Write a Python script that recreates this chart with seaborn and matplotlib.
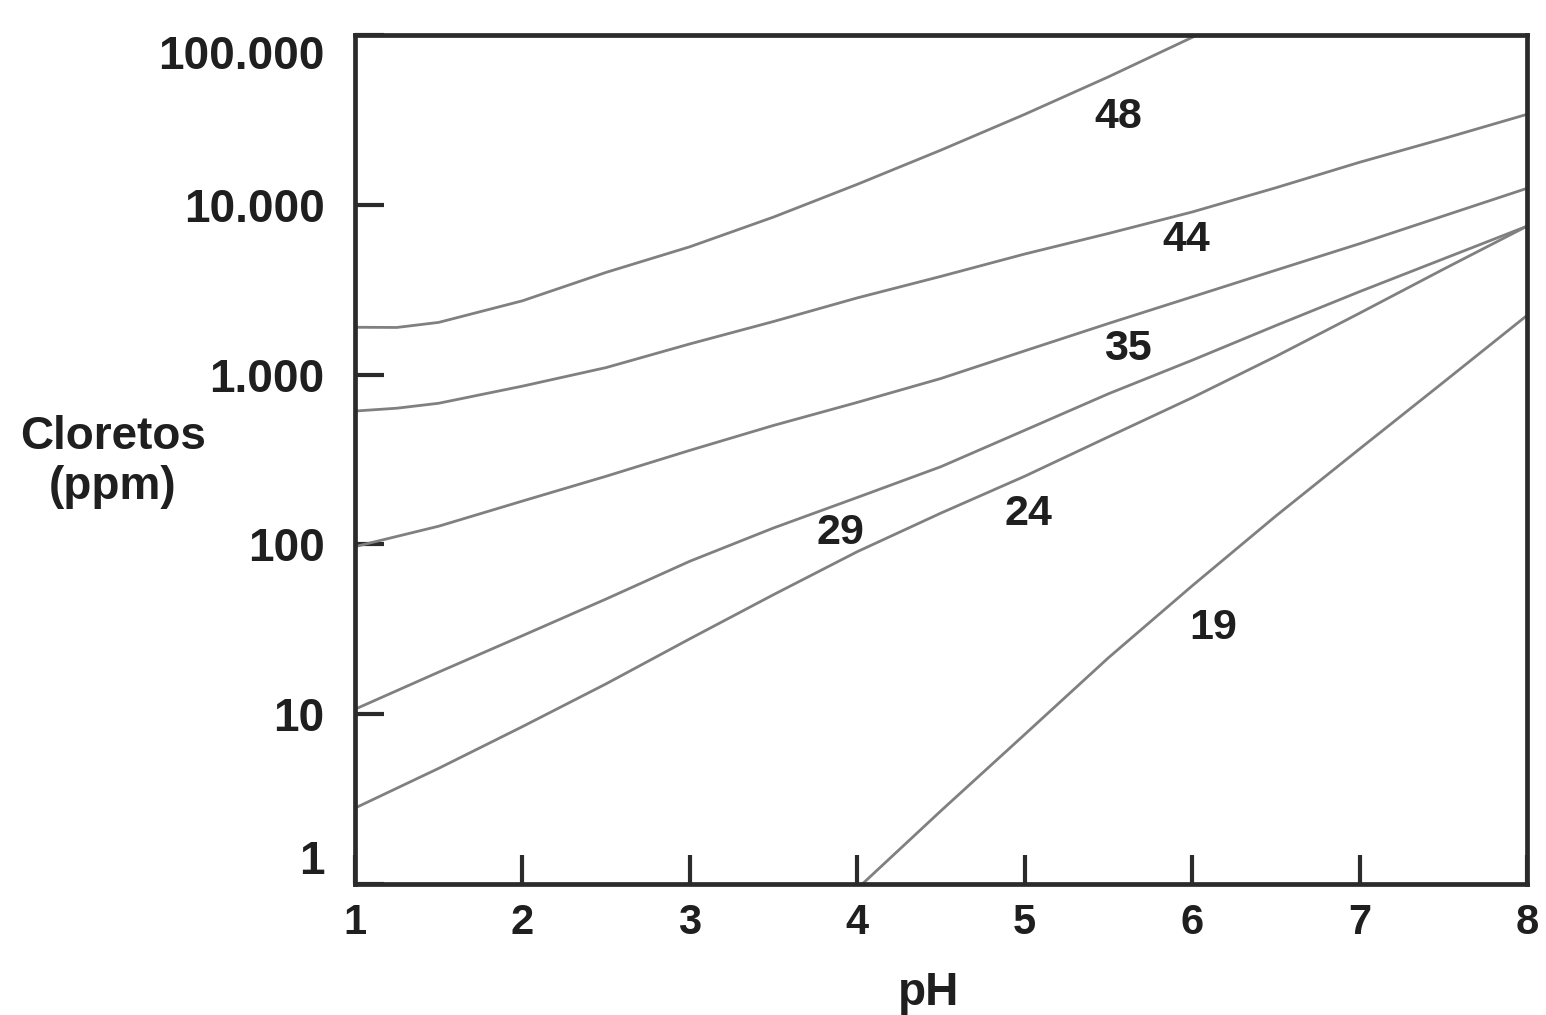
import matplotlib
matplotlib.use("Agg")
import matplotlib.pyplot as plt
from matplotlib.ticker import NullLocator
import seaborn as sns
import pandas as pd

# ---- data ----
ph_48 = [1.0, 1.25, 1.5, 2.0, 2.5, 3.0, 3.5, 4.0, 4.5, 5.0, 5.5, 6.03]
cl_48 = [1900, 1895, 2030, 2720, 4000, 5660, 8470, 13200, 21000, 34100, 56700, 100000]

ph_44 = [1.0, 1.25, 1.5, 2.0, 2.5, 3.0, 3.5, 4.0, 4.5, 5.0, 5.5, 6.0, 6.5, 7.0, 7.5, 8.0]
cl_44 = [610, 634, 678, 855, 1100, 1516, 2055, 2830, 3790, 5130, 6780, 9070, 12600, 17800, 24500, 34100]

ph_35 = [1.0, 1.5, 2.0, 2.5, 3.0, 3.5, 4.0, 4.5, 5.0, 5.5, 6.0, 6.5, 7.0, 7.5, 8.0]
cl_35 = [97, 128, 180, 252, 358, 502, 686, 949, 1380, 2000, 2870, 4120, 5900, 8590, 12500]

ph_29 = [1.0, 1.5, 2.0, 2.5, 3.0, 3.5, 4.0, 4.5, 5.0, 5.5, 6.0, 6.5, 7.0, 7.5, 8.0]
cl_29 = [10.7, 17.7, 29, 47.7, 79.6, 125, 189, 287, 470, 771, 1215, 1945, 3080, 4800, 7480]

ph_24 = [1.0, 1.5, 2.0, 2.5, 3.0, 3.5, 4.0, 4.5, 5.0, 5.5, 6.0, 6.5, 7.0, 7.5, 8.0]
cl_24 = [2.8, 4.8, 8.45, 15.1, 27.8, 50.6, 90.6, 153, 252, 430, 731, 1280, 2300, 4170, 7480]

ph_19 = [4.03, 4.5, 5.0, 5.5, 6.0, 6.5, 7.0, 7.5, 8.0]
cl_19 = [1.0, 2.7, 7.6, 21.5, 57, 147, 365, 900, 2230]

curve_names = ["48", "44", "35", "29", "24", "19"]
curve_ph = [ph_48, ph_44, ph_35, ph_29, ph_24, ph_19]
curve_cl = [cl_48, cl_44, cl_35, cl_29, cl_24, cl_19]

# curve label positions (pH, ppm)
label_ph = [5.557, 5.963, 5.617, 3.897, 5.02, 6.125]
label_cl = [32700, 6240, 1415, 117, 152, 32]

x_ticks = [1, 2, 3, 4, 5, 6, 7, 8]
x_ticklabels = ["1", "2", "3", "4", "5", "6", "7", "8"]
y_ticks = [1, 10, 100, 1000, 10000, 100000]
y_ticklabels = ["1", "10", "100", "1.000", "10.000", "100.000"]

x_title = "pH"
y_title = "Cloretos\n(ppm)"

# ---- build long-form table ----
rows = []
for name, phs, cls in zip(curve_names, curve_ph, curve_cl):
    for p, c in zip(phs, cls):
        rows.append({"pH": p, "ppm": c, "curva": name})
df = pd.DataFrame(rows)

sns.set_theme(style="white")
plt.rcParams["font.family"] = ["Liberation Sans", "DejaVu Sans"]

text_color = "#1f1f1f"
line_color = "#808080"
frame_color = "#2b2b2b"

fig = plt.figure(figsize=(15.46, 10.15), dpi=100)
ax = fig.add_axes([355 / 1546, 1 - 884 / 1015, (1527 - 355) / 1546, (884 - 35) / 1015])

sns.lineplot(data=df, x="pH", y="ppm", hue="curva", units="curva", estimator=None,
             palette={n: line_color for n in curve_names}, linewidth=2.0,
             legend=False, ax=ax, sort=True)

ax.set_yscale("log")
ax.set_xlim(1, 8)
ax.set_ylim(1, 100000)
ax.yaxis.set_minor_locator(NullLocator())
ax.xaxis.set_minor_locator(NullLocator())

ax.set_xticks(x_ticks)
ax.set_xticklabels(x_ticklabels)
ax.set_yticks(y_ticks)
ax.set_yticklabels(y_ticklabels)

ax.tick_params(axis="both", which="major", direction="in", length=21, width=3.0,
               color=frame_color, labelcolor=text_color,
               bottom=True, left=True, top=False, right=False)
ax.tick_params(axis="y", labelsize=33, pad=22)
ax.tick_params(axis="x", labelsize=30, pad=14)
for lab in ax.get_yticklabels() + ax.get_xticklabels():
    lab.set_fontweight("bold")
ylabs = ax.get_yticklabels()
ylabs[0].set_va("bottom")
ylabs[-1].set_va("top")

for s in ax.spines.values():
    s.set_visible(True)
    s.set_color(frame_color)
    s.set_linewidth(3.4)

ax.set_xlabel(x_title, fontsize=33, fontweight="bold", color=text_color, va="center")
ax.xaxis.set_label_coords(0.489, -0.128)
ax.set_ylabel(y_title, fontsize=33, fontweight="bold", color=text_color,
              rotation=0, ha="center", va="center", multialignment="center",
              linespacing=1.2)
ax.yaxis.set_label_coords(-0.2065, 0.497)

for name, lp, lc in zip(curve_names, label_ph, label_cl):
    ax.text(lp, lc, name, fontsize=31, fontweight="bold", color=text_color,
            ha="center", va="center")

fig.savefig("out.png", dpi=100, facecolor="white")
